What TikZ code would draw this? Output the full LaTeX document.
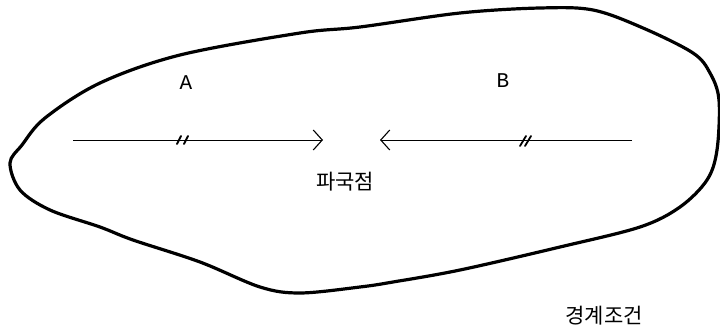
\documentclass[tikz,border=0pt]{standalone}
\usepackage{fontspec}
\newfontfamily\kr{Noto Sans CJK KR}
\newfontfamily\lmono{Liberation Mono}
\usetikzlibrary{arrows.meta}
\tikzset{
  outline/.style={line width=3.2pt, line join=round},
  flow/.style={line width=0.9pt, -{Straight Barb[length=9pt,width=20pt,line width=1.1pt]}},
  tick/.style={line width=1.8pt, line cap=round},
  lbl/.style={font=\lmono\fontsize{21}{24}\selectfont, inner sep=0pt},
  krlbl/.style={font=\kr\fontsize{21}{24}\selectfont, inner sep=0pt}
}
\begin{document}
\begin{tikzpicture}[x=1pt,y=-1pt]
\useasboundingbox (0,0) rectangle (720,334);
\draw[outline] plot[smooth cycle, tension=0.55] coordinates {
 (10,163) (20,190) (50,210) (100,227) (133,240) (200,262) (260,287) (300,293)
 (360,287) (393,282) (460,270) (560,247) (640,227) (680,207) (707,180)
 (717,150) (719,100) (710,73) (693,53) (643,28) (593,10) (540,8) (460,13)
 (360,27) (300,33) (180,55) (100,83) (45,118) (22,145)};
\coordinate (a0) at (73,140);
\coordinate (a1) at (323,140);
\coordinate (b0) at (632,140);
\coordinate (b1) at (380,140);
\draw[flow] (a0) -- (a1);
\draw[flow] (b0) -- (b1);
\draw[tick] (177,144) -- (181,136);
\draw[tick] (184,144) -- (188,136);
\draw[tick] (520,146) -- (526,136);
\draw[tick] (525,146) -- (531,136);
\node[lbl] (A) at (186,83) {A};
\node[lbl] (B) at (503,81) {B};
\node[krlbl] (P) at (345,182) {파국점};
\node[krlbl] (K) at (604,316) {경계조건};
\end{tikzpicture}
\end{document}
